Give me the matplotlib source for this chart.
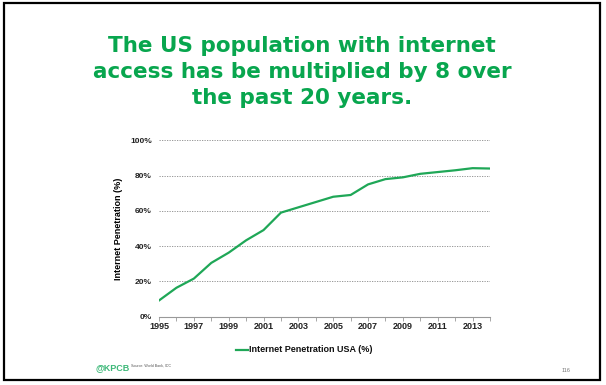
import matplotlib
matplotlib.use("Agg")
import matplotlib.pyplot as plt
from matplotlib.patches import Rectangle
from matplotlib.lines import Line2D

years = list(range(1995, 2015))
penetration = [9.2, 16.4, 21.6, 30.5, 36.3, 43.3, 49.1, 59.0, 62.0, 65.0, 68.0, 69.0,
               75.0, 78.0, 79.0, 81.0, 82.0, 83.0, 84.2, 84.0]
xtick_years = [1995, 1997, 1999, 2001, 2003, 2005, 2007, 2009, 2011, 2013]
ytick_vals = [0, 20, 40, 60, 80, 100]
ytick_labels = ["0%", "20%", "40%", "60%", "80%", "100%"]

title = "The US population with internet\naccess has be multiplied by 8 over\nthe past 20 years."
green = "#08a64e"
line_green = "#1fa757"

plt.rcParams['font.family'] = ['Liberation Sans', 'DejaVu Sans']

W, H = 606, 385
fig = plt.figure(figsize=(W / 100, H / 100), dpi=100)
fig.patch.set_facecolor("white")

# slide frame
fig.add_artist(Rectangle((4 / W, 1 - 380 / H), 596 / W, 377 / H, transform=fig.transFigure,
                         fill=False, edgecolor="black", linewidth=1.6))

fig.text(302 / W, 1 - 72 / H, title, ha="center", va="center", color=green,
         fontsize=15.5, fontweight="heavy", linespacing=1.38, family="DejaVu Sans")

ax = fig.add_axes([159 / W, 1 - 316.7 / H, (490 - 159) / W, (316.7 - 140.3) / H])
ax.plot(years, penetration, color=line_green, linewidth=1.6, solid_joinstyle="round")
ax.set_xlim(1995, 2014)
ax.set_ylim(0, 100)
ax.set_yticks(ytick_vals)
ax.set_yticklabels(ytick_labels)
ax.set_xticks(xtick_years)
ax.set_xticks(years, minor=True)
for s in ["top", "right", "left"]:
    ax.spines[s].set_visible(False)
ax.spines["bottom"].set_color("#999999")
ax.spines["bottom"].set_linewidth(0.8)
ax.tick_params(axis="y", length=0, pad=5, labelsize=6)
ax.tick_params(axis="x", which="both", length=3, color="#999999", width=0.6, pad=1, labelsize=6.5)
for lab in ax.get_xticklabels() + ax.get_yticklabels():
    lab.set_fontweight("bold")
    lab.set_color("#222222")
for v in ytick_vals[1:]:
    ax.axhline(v, color="#888888", linewidth=0.6, linestyle=(0, (1.5, 1.5)), zorder=0)
ax.set_ylabel("Internet Penetration (%)", fontsize=6.5, fontweight="bold", labelpad=5)

# legend
fig.add_artist(Line2D([236 / W, 248 / W], [1 - 350 / H, 1 - 350 / H], transform=fig.transFigure,
                      color=line_green, linewidth=1.6))
fig.text(249 / W, 1 - 350 / H, "Internet Penetration USA (%)", ha="left", va="center",
         fontsize=6.5, fontweight="bold", color="#111111")

# footer
fig.text(95 / W, 1 - 368 / H, "@KPCB", ha="left", va="center", fontsize=6.5, fontweight="bold",
         color="#3cb878")
fig.text(131 / W, 1 - 366 / H, "Source: World Bank, IDC", ha="left", va="center", fontsize=2.6,
         color="#555555")
fig.text(566 / W, 1 - 370 / H, "116", ha="center", va="center", fontsize=4, color="#777777")

fig.savefig("out.png", dpi=100)
